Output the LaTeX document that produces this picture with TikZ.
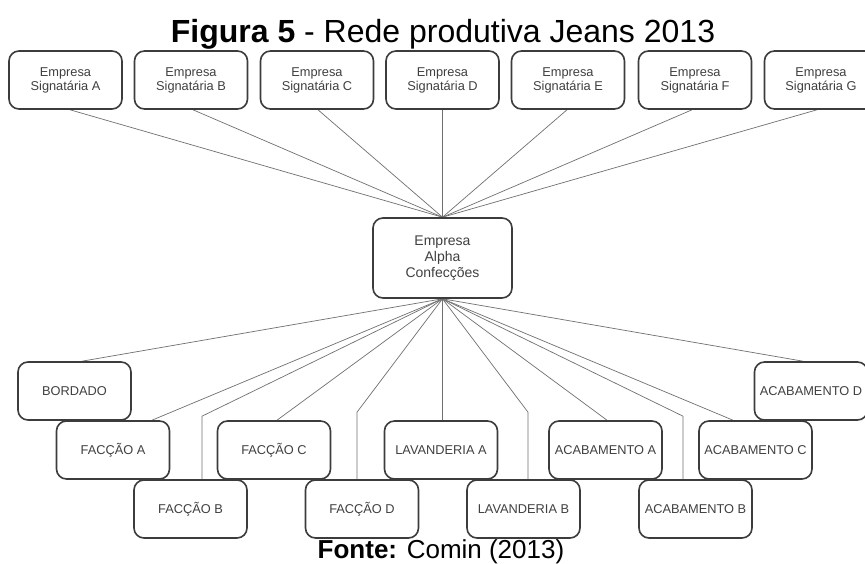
\documentclass[tikz,border=0pt]{standalone}
\usepackage{fontspec}
\setmainfont{Liberation Sans}
\usetikzlibrary{backgrounds}
\definecolor{boxline}{HTML}{3C3C3C}
\definecolor{linkgray}{HTML}{707070}
\definecolor{labeltext}{HTML}{404040}
\begin{document}
\begin{tikzpicture}[x=1pt,y=-1pt,
  box/.style={draw=boxline, line width=1.6pt, rounded corners=10pt, fill=white,
    minimum width=113pt, minimum height=58pt, inner sep=0pt, align=center,
    text=labeltext, font=\fontsize{12.8}{14}\selectfont},
  link/.style={draw=linkgray, line width=0.7pt}]
\clip (0,0) rectangle (865,564);

% caption lines
\node[anchor=base, font=\fontsize{32}{34}\selectfont] (title) at (443,43)
  {\textbf{Figura 5} - Rede produtiva Jeans 2013};
\node[anchor=base, font=\fontsize{26}{28}\selectfont] (source) at (441,558)
  {\textbf{Fonte:} Comin (2013)};

% signatory companies
\node[box] (sa) at (65.5,80) {Empresa\\Signatária A};
\node[box] (sb) at (191,80)  {Empresa\\Signatária B};
\node[box] (sc) at (317,80)  {Empresa\\Signatária C};
\node[box] (sd) at (442.5,80){Empresa\\Signatária D};
\node[box] (se) at (568,80)  {Empresa\\Signatária E};
\node[box] (sf) at (695,80)  {Empresa\\Signatária F};
\node[box] (sg) at (821,80)  {Empresa\\Signatária G};

% central company
\node[box, minimum width=139pt, minimum height=80pt,
  font=\fontsize{14}{16}\selectfont] (alpha) at (442.5,258)
  {Empresa\\Alpha\\Confecções};

% suppliers
\node[box] (bord) at (74.5,391)  {BORDADO};
\node[box] (faca) at (113,450)   {FACÇÃO A};
\node[box] (facb) at (190.5,509) {FACÇÃO B};
\node[box] (facc) at (274,450)   {FACÇÃO C};
\node[box] (facd) at (362,509)   {FACÇÃO D};
\node[box] (lava) at (441,450)   {LAVANDERIA A};
\node[box] (lavb) at (523.5,509) {LAVANDERIA B};
\node[box] (acaa) at (605.5,450) {ACABAMENTO A};
\node[box] (acab) at (695.5,509) {ACABAMENTO B};
\node[box] (acac) at (755.5,450) {ACABAMENTO C};
\node[box] (acad) at (811,391)   {ACABAMENTO D};

\begin{scope}[on background layer]
  \fill[white] (0,0) rectangle (865,564);
  % signatories to the central company
  \draw[link] ([xshift=4.5pt]sa.south) -- (alpha.north);
  \draw[link] ([xshift=2pt]sb.south) -- (alpha.north);
  \draw[link] ([xshift=1pt]sc.south) -- (alpha.north);
  \draw[link] (sd.south) -- (alpha.north);
  \draw[link] ([xshift=-1pt]se.south) -- (alpha.north);
  \draw[link] ([xshift=-3pt]sf.south) -- (alpha.north);
  \draw[link] ([xshift=-4pt]sg.south) -- (alpha.north);

  % central company to suppliers
  \draw[link] (alpha.south) -- ([xshift=7.5pt]bord.north);
  \draw[link] (alpha.south) -- ([xshift=39pt]faca.north);
  \draw[link] (alpha.south) -- ([xshift=11.5pt,yshift=63pt]facb.north)
                            -- ([xshift=11.5pt]facb.north);
  \draw[link] (alpha.south) -- ([xshift=3pt]facc.north);
  \draw[link] (alpha.south) -- ([xshift=-5pt,yshift=67pt]facd.north)
                            -- ([xshift=-5pt]facd.north);
  \draw[link] (alpha.south) -- (alpha.south |- lava.north);
  \draw[link] (alpha.south) -- ([xshift=4.5pt,yshift=67pt]lavb.north)
                            -- ([xshift=4.5pt]lavb.north);
  \draw[link] (alpha.south) -- ([xshift=1.5pt]acaa.north);
  \draw[link] (alpha.south) -- ([xshift=-12.5pt,yshift=63pt]acab.north)
                            -- ([xshift=-12.5pt]acab.north);
  \draw[link] (alpha.south) -- ([xshift=-22.5pt]acac.north);
  \draw[link] (alpha.south) -- ([xshift=-8pt]acad.north);
\end{scope}
\end{tikzpicture}
\end{document}
